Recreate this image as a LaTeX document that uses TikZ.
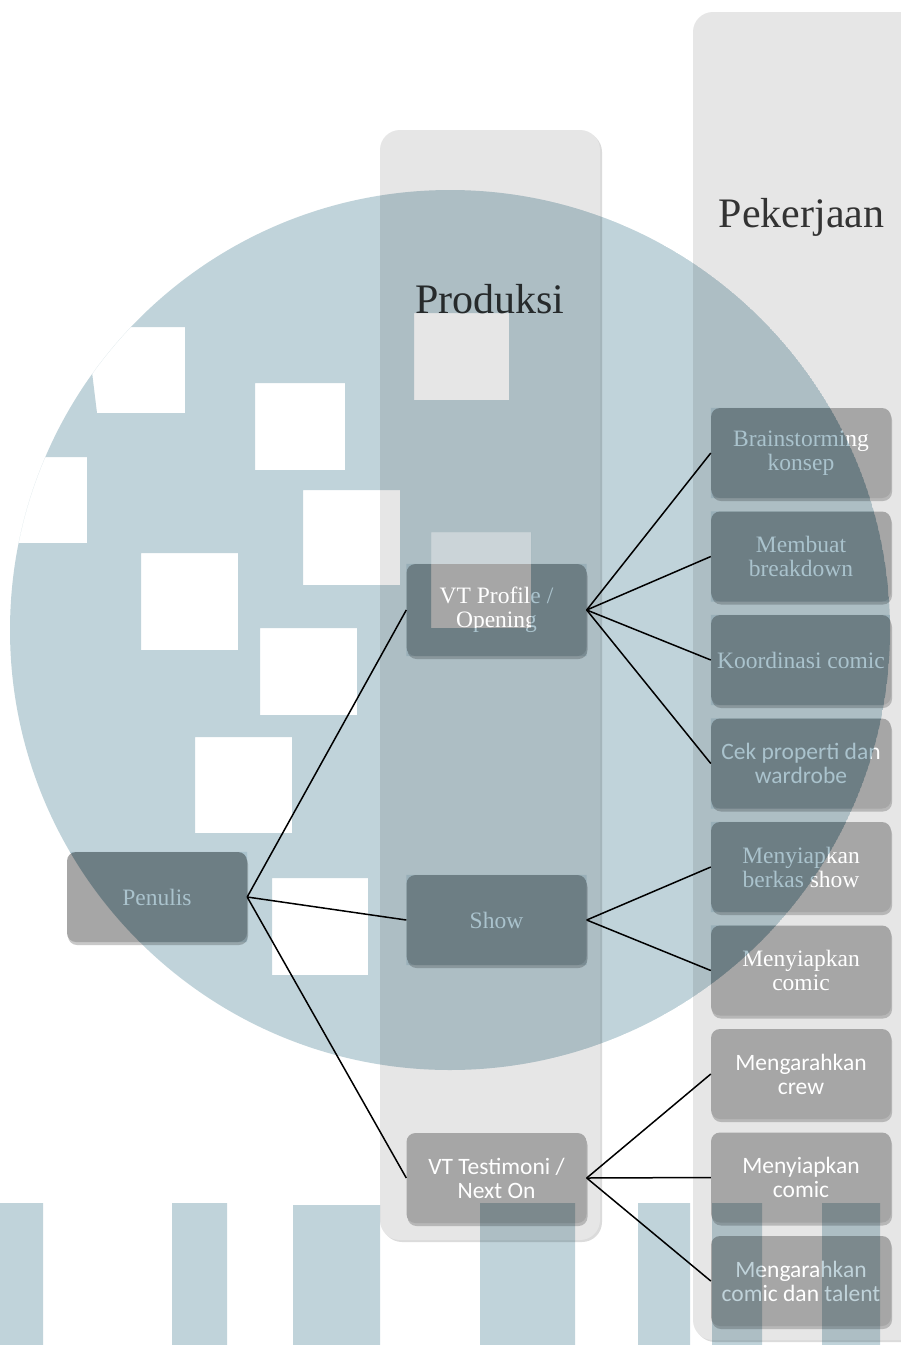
\documentclass[tikz,border=0pt]{standalone}
\usepackage{fontspec}
\setmainfont{Liberation Serif}
\newfontfamily\calibrifont{Carlito}
\usetikzlibrary{shadows}
\definecolor{boxgray}{HTML}{A6A6A6}
\definecolor{colgray}{HTML}{E6E6E6}
\definecolor{wm}{HTML}{C0D3DA}
\definecolor{wmbox}{HTML}{E2ECF0}
\definecolor{headtext}{HTML}{333333}
\begin{document}
\begin{tikzpicture}[x=1pt,y=-1pt,
  box/.style={rounded corners=9pt, fill=boxgray, text=white,
    minimum width=180pt, minimum height=90pt, align=center, inner sep=0pt,
    font=\fontsize{23.5}{24}\selectfont,
    drop shadow={shadow xshift=1pt, shadow yshift=-3pt, opacity=0.3, fill=black!70}},
  calbox/.style={box, font=\calibrifont\fontsize{23.5}{24}\selectfont},
  colbox/.style={fill=colgray, rounded corners=20pt,
    drop shadow={shadow xshift=2pt, shadow yshift=-2pt, opacity=0.14, fill=black}},
  head/.style={anchor=base, text=headtext, font=\fontsize{42}{46}\selectfont},
  link/.style={draw=black, line width=1.5pt},
  wmark/.style={fill=wm, blend mode=multiply}
]
\useasboundingbox (0,0) rectangle (901,1345);
\clip (0,0) rectangle (901,1345);
\fill[white] (0,0) rectangle (901,1345);

% columns
\path[colbox] (380,130) rectangle (600,1240);
\path[colbox] (693,12) rectangle (930,1340);

% headers
\node[head] (hprod) at (490,313) {Produksi};
\node[head] (hpek) at (801.5,227) {Pekerjaan};

% nodes
\node[box] (pen) at (157,897) {Penulis};
\node[box, minimum height=92pt] (vtp) at (496.5,610) {VT Profile /\\Opening};
\node[box] (show) at (496.5,920) {Show};
\node[calbox] (vtt) at (496.5,1178) {VT Testimoni /\\Next On};

\node[box] (b1) at (801,453) {Brainstorming\\konsep};
\node[box] (b2) at (801,556.5) {Membuat\\breakdown};
\node[box] (b3) at (801,660) {Koordinasi comic};
\node[calbox] (b4) at (801,763.5) {Cek properti dan\\wardrobe};
\node[box] (b5) at (801,867) {Menyiapkan\\berkas show};
\node[box] (b6) at (801,970.5) {Menyiapkan\\comic};
\node[calbox] (b7) at (801,1074) {Mengarahkan\\crew};
\node[calbox] (b8) at (801,1177.5) {Menyiapkan\\comic};
\node[calbox] (b9) at (801,1281) {Mengarahkan\\comic dan talent};

% connectors
\draw[link] (pen.east) -- (vtp.west);
\draw[link] (pen.east) -- (show.west);
\draw[link] (pen.east) -- (vtt.west);
\foreach \t in {b1,b2,b3,b4} \draw[link] (vtp.east) -- (\t.west);
\foreach \t in {b5,b6} \draw[link] (show.east) -- (\t.west);
\foreach \t in {b7,b8,b9} \draw[link] (vtt.east) -- (\t.west);

% watermark (multiplied over the diagram)
\begin{scope}
\clip (450,630) circle [radius=440];
\fill[wmark, even odd rule] (450,630) circle [radius=440]
  (0,200) -- (97,200) -- (97,327) -- (185,327) -- (185,413) -- (97,413)
    -- (92,372) -- (43,450) -- (43,457) -- (87,457) -- (87,543)
    -- (0,543) -- cycle
  (414,313) rectangle (509,400)
  (255,383) rectangle (345,470)
  (303,490) rectangle (400,585)
  (141,553) rectangle (238,650)
  (431,532) rectangle (531,628)
  (260,628) rectangle (357,715)
  (195,737) rectangle (292,833)
  (272,878) rectangle (368,975);
% boxes appear a little darker under the watermark
\fill[fill=wmbox, blend mode=multiply, even odd rule]
  (pen.south west) rectangle (pen.north east)
  (vtp.south west) rectangle (vtp.north east)
  (show.south west) rectangle (show.north east)
  (b1.south west) rectangle (b1.north east)
  (b2.south west) rectangle (b2.north east)
  (b3.south west) rectangle (b3.north east)
  (b4.south west) rectangle (b4.north east)
  (b5.south west) rectangle (b5.north east)
  (b6.south west) rectangle (b6.north east)
  (431,532) rectangle (531,628);
\end{scope}
\fill[wmark] (0,1203) rectangle (43,1345)
  (172,1203) rectangle (227,1345)
  (293,1205) rectangle (380,1345)
  (480,1203) rectangle (575,1345)
  (638,1203) rectangle (690,1345)
  (712,1203) rectangle (762,1345)
  (822,1203) rectangle (880,1345);
\end{tikzpicture}
\end{document}
